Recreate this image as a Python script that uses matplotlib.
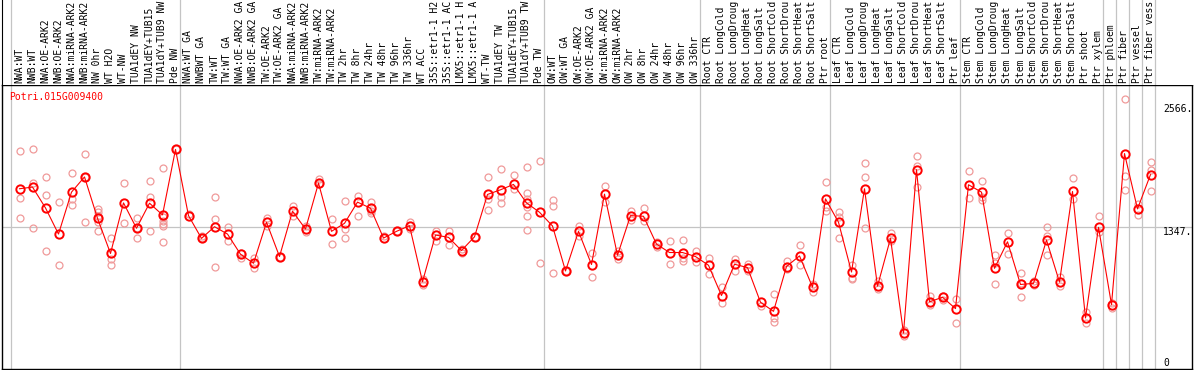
import numpy as np
import matplotlib
matplotlib.use('Agg')
import matplotlib.pyplot as plt

gene = 'Potri.015G009400'

labels = ['NWA:WT', 'NWB:WT', 'NWA:OE-ARK2', 'NWB:OE-ARK2', 'NWA:miRNA-ARK2', 'NWB:miRNA-ARK2',
          'NW 0hr', 'WT H2O', 'WT-NW', 'TUA1dEY NW', 'TUA1dEY+TUB15', 'TUA1dY+TUB9 NW', 'Pde NW',
          'NWA:WT GA', 'NWBWT GA', 'TW:WT', 'TW:WT GA', 'NWA:OE-ARK2 GA', 'NWB:OE-ARK2 GA',
          'TW:OE-ARK2', 'TW:OE-ARK2 GA', 'NWA:miRNA-ARK2', 'NWB:miRNA-ARK2', 'TW:miRNA-ARK2',
          'TW:miRNA-ARK2', 'TW 2hr', 'TW 8hr', 'TW 24hr', 'TW 48hr', 'TW 96hr', 'TW 336hr', 'WT ACC',
          '35S::etr1-1 H2', '35S::etr1-1 AC', 'LMX5::etr1-1 H', 'LMX5::etr1-1 A', 'WT-TW',
          'TUA1dEY TW', 'TUA1dEY+TUB15', 'TUA1dY+TUB9 TW', 'Pde TW',
          'OW:WT', 'OW:WT GA', 'OW:OE-ARK2', 'OW:OE-ARK2 GA', 'OW:miRNA-ARK2', 'OW:miRNA-ARK2',
          'OW 2hr', 'OW 8hr', 'OW 24hr', 'OW 48hr', 'OW 96hr', 'OW 336hr',
          'Root CTR', 'Root LongCold', 'Root LongDroug', 'Root LongHeat', 'Root LongSalt',
          'Root ShortCold', 'Root ShortDrou', 'Root ShortHeat', 'Root ShortSalt', 'Ptr root',
          'Leaf CTR', 'Leaf LongCold', 'Leaf LongDroug', 'Leaf LongHeat', 'Leaf LongSalt',
          'Leaf ShortCold', 'Leaf ShortDrou', 'Leaf ShortHeat', 'Leaf ShortSalt', 'Ptr leaf',
          'Stem CTR', 'Stem LongCold', 'Stem LongDroug', 'Stem LongHeat', 'Stem LongSalt',
          'Stem ShortCold', 'Stem ShortDrou', 'Stem ShortHeat', 'Stem ShortSalt', 'Ptr shoot',
          'Ptr xylem', 'Ptr phloem', 'Ptr fiber', 'Ptr vessel', 'Ptr fiber vess']

group_sizes = [13, 28, 12, 10, 10, 11, 1, 1, 1, 1]

means = [1710, 1726, 1528, 1280, 1678, 1822, 1430, 1096, 1576, 1335, 1573, 1462, 2083,
         1455, 1239, 1350, 1280, 1089, 1003, 1392, 1067, 1497, 1328, 1764, 1306, 1382, 1583,
         1526, 1242, 1306, 1359, 828, 1271, 1249, 1124, 1254, 1656, 1700, 1751, 1576, 1487,
         1357, 930, 1306, 991, 1659, 1079, 1455, 1449, 1185, 1105, 1105, 1067,
         984, 697, 994, 962, 633, 547, 972, 1073, 777, 1614,
         1392, 920, 1710, 786, 1239, 341, 1891, 637, 681, 573,
         1748, 1678, 955, 1207, 802, 812, 1223, 824, 1684, 484, 1344,
         611, 2044, 1519, 1844]

reps = [[2070, 1624, 1430], [2083, 1767, 1335], [1822, 1646, 1115], [1583, 984],
        [1863, 1614, 1560], [2044, 1822, 1392], [1519, 1487, 1455, 1392, 1312],
        [1239, 1041, 984], [1764, 1382], [1433, 1239, 1335], [1784, 1636, 1306],
        [1911, 1440, 1407, 1376, 1359, 1207], [2083],
        [1471], [1264, 1239], [1631, 1423, 972], [1344, 1216], [1105, 1057], [1057, 962],
        [1430, 1359], [1067], [1545, 1455], [1359, 1302], [1799, 1758], [1423, 1185],
        [1592, 1328, 1239], [1640, 1449], [1583, 1503, 1481], [1264], [1312], [1392, 1328],
        [857, 793], [1312, 1216], [1312, 1178], [1143, 1099], [1254], [1822, 1614, 1512],
        [1901, 1631, 1573], [1844, 1710], [1917, 1672, 1614, 1535, 1449, 1318], [1971, 1010],
        [1605, 1545, 914], [930], [1359, 1264], [1099, 876], [1736, 1583], [1115, 1041],
        [1503, 1414], [1528, 1407], [1207, 1153], [1210, 994], [1223, 1057, 1025],
        [1118, 1015],
        [1051, 905], [777, 628], [1041, 930], [994, 930], [595], [707, 484, 446],
        [1025, 946], [1175, 984], [802, 733], [1774, 1535, 1503],
        [1487, 1440, 1239], [984, 866, 850], [1955, 1822, 1335], [834, 755], [1290, 1216],
        [373, 315], [2022, 1927, 1726], [697, 611], [691, 652], [666, 437],
        [1875, 1624], [1786, 1631, 1605], [1082, 1003, 802], [1290, 1089], [908, 819, 685],
        [834, 796], [1350, 1264, 1082], [876, 786], [1815, 1614], [538, 437], [1449, 1296],
        [628, 580], [2566, 1831, 1694], [1567, 1462], [1965, 1885, 1688]]

W, H = 1194, 370
fig = plt.figure(figsize=(W / 100, H / 100), dpi=100)

# pixel geometry of the reference
left_px, right_px = 1.7, 1192.3
top_px, bottom_px = 85, 369
x0_px, step_px = 19.5, 13.0

ax = fig.add_axes([left_px / W, (H - bottom_px) / H, (right_px - left_px) / W, (bottom_px - top_px) / H])
lab = fig.add_axes([left_px / W, (H - top_px) / H, (W - left_px) / W, top_px / H])

xlim = ((left_px - x0_px) / step_px, (right_px - x0_px) / step_px)
ax.set_xlim(xlim)
lab.set_xlim(xlim[0], (W - x0_px) / step_px)
ymax = max(max(r) for r in reps) * 1.05
ax.set_ylim(0, ymax)
lab.set_ylim(0, top_px)

x = np.arange(len(labels))
pink = '#f09a9a'
grid = '#c4c4c4'

# group separators
bounds = np.concatenate([[0], np.cumsum(group_sizes)]) - 0.63
for b in bounds:
    ax.axvline(b, color=grid, lw=0.9, zorder=0)
    lab.axvline(b, color=grid, lw=0.9, zorder=0)
ax.axhline(ymax / 2, color=grid, lw=0.9, zorder=0)

for i, r in enumerate(reps):
    ax.plot([x[i]] * len(r), r, 'o', ms=5, mfc='none', mec=pink, mew=0.9, zorder=2)
ax.plot(x, means, '-', color='red', lw=0.8, zorder=3)
ax.plot(x, means, 'o', ms=6, mfc='none', mec='red', mew=1.4, zorder=4)

for s in ['left', 'top', 'bottom', 'right']:
    ax.spines[s].set_color('black')
    ax.spines[s].set_linewidth(1.0)
ax.set_xticks([])
ax.set_yticks([])

for s in ['top', 'bottom', 'right']:
    lab.spines[s].set_visible(False)
lab.spines['left'].set_color('black')
lab.set_xticks([])
lab.set_yticks([])
for i, t in enumerate(labels):
    lab.text(x[i], 2, t, rotation=90, ha='center', va='bottom',
             family='DejaVu Sans Mono', fontsize=7)

ax.text((9.3 - left_px) / (right_px - left_px), (bottom_px - 96.7) / (bottom_px - top_px), gene,
        transform=ax.transAxes, color='red', family='DejaVu Sans Mono', fontsize=7,
        ha='left', va='center')

xr = (1163.3 - x0_px) / step_px
top_val = max(max(r) for r in reps)
for val, txt, dy in [(top_val, '%d.' % top_val, -10), (ymax / 2, '%d.' % (ymax / 2), -5), (0, '0', 6)]:
    ax.annotate(txt, xy=(xr, val), xytext=(0, dy), textcoords='offset pixels',
                ha='left', va='center', family='DejaVu Sans Mono', fontsize=7,
                annotation_clip=False)

fig.savefig('out.png', dpi=100)
